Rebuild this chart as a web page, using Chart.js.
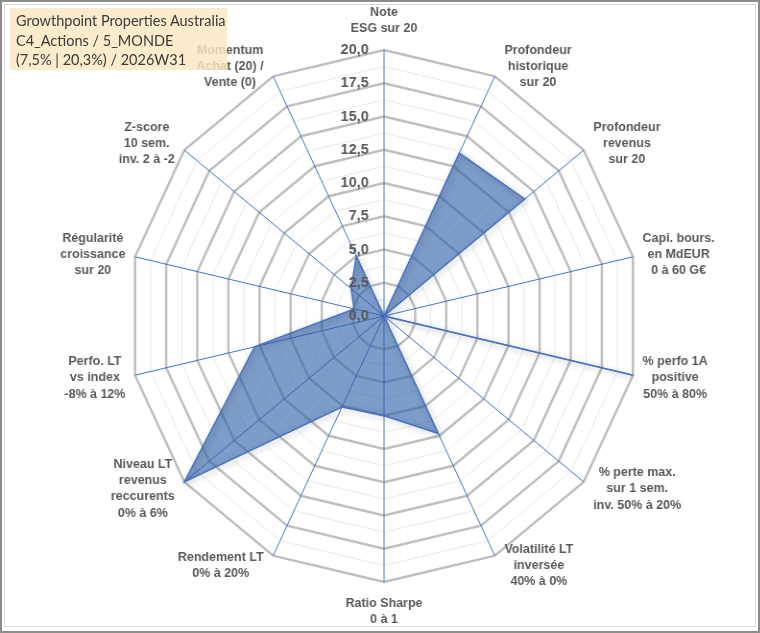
<!DOCTYPE html>
<html>
<head>
<meta charset="utf-8">
<script src="https://cdn.jsdelivr.net/npm/chart.js@4.4.1/dist/chart.umd.min.js"></script>
<style>
  body { margin: 0; background: #fff; }
  #wrap { position: relative; width: 760px; height: 633px; overflow: hidden; }
  #radar { position: absolute; left: 0; top: 0; transform: scaleX(0.96); transform-origin: 0 0; }
  #frameOut { position: absolute; left: 0; top: 0; width: 756px; height: 629px; border: 2px solid #8c8c8c; pointer-events: none; }
  #frameIn { position: absolute; left: 4px; top: 4px; width: 750px; height: 621px; border: 1px solid #dadada; pointer-events: none; }
  #title {
    position: absolute; left: 10px; top: 8px; width: 217px; height: 62px;
    background: rgba(253, 232, 193, 0.82);
    font-family: Lato, sans-serif; font-size: 14.5px; line-height: 19.5px;
    color: #3a3a3a; padding: 3px 0 0 6px; box-sizing: border-box;
  }
</style>
</head>
<body>
<div id="wrap">
  <canvas id="radar" width="792" height="633"></canvas>
  <div id="frameOut"></div>
  <div id="frameIn"></div>
  <div id="title">Growthpoint Properties Australia<br>C4_Actions / 5_MONDE<br>(7,5% | 20,3%) / 2026W31</div>
</div>
<script>
const axisLabels = [
    ['Note', 'ESG sur 20'],
    ['Profondeur', 'historique', 'sur 20'],
    ['Profondeur', 'revenus', 'sur 20'],
    ['Capi. bours.', 'en MdEUR', '0 à 60 G€'],
    ['% perfo 1A', 'positive', '50% à 80%'],
    ['% perte max.', 'sur 1 sem.', 'inv. 50% à 20%'],
    ['Volatilité LT', 'inversée', '40% à 0%'],
    ['Ratio Sharpe', '0 à 1'],
    ['Rendement LT', '0% à 20%'],
    ['Niveau LT', 'revenus', 'reccurents', '0% à 6%'],
    ['Perfo. LT', 'vs index', '-8% à 12%'],
    ['Régularité', 'croissance', 'sur 20'],
    ['Z-score', '10 sem.', 'inv. 2 à -2'],
    ['Momentum', 'Achat (20) /', 'Vente (0)']
];
const scores = [0, 13.6, 14.1, 0, 20, 0, 9.8, 7.5, 7.6, 20, 10.4, 2.4, 3.3, 5.0];
const tickValues = [0, 2.5, 5, 7.5, 10, 12.5, 15, 17.5, 20];

const labelFont = 'bold 13px "Liberation Sans", Arial, sans-serif';
const lineStep = 16.3;

// shadow under the filled area, like the spreadsheet chart
const shadowPlugin = {
    id: 'shadow',
    beforeDatasetDraw(chart) {
        const ctx = chart.ctx;
        ctx.save();
        ctx.shadowColor = 'rgba(0,0,0,0.35)';
        ctx.shadowBlur = 6;
        ctx.shadowOffsetX = 2;
        ctx.shadowOffsetY = 2;
    },
    afterDatasetDraw(chart) {
        chart.ctx.restore();
    }
};

// tick labels left of the vertical axis + axis labels set beside each outer vertex
const textPlugin = {
    id: 'texts',
    afterDraw(chart) {
        const ctx = chart.ctx;
        const scale = chart.scales.r;
        ctx.save();
        ctx.font = 'bold 15px "Liberation Sans", Arial, sans-serif';
        ctx.fillStyle = '#595959';
        ctx.textAlign = 'right';
        ctx.textBaseline = 'middle';
        tickValues.forEach(v => {
            const y = scale.yCenter - scale.getDistanceFromCenterForValue(v);
            ctx.fillText(v.toFixed(1).replace('.', ','), scale.xCenter - 16, y);
        });

        ctx.font = labelFont;
        ctx.textAlign = 'center';
        ctx.textBaseline = 'middle';
        axisLabels.forEach((lines, i) => {
            const a = scale.getIndexAngle(i);
            const s = Math.sin(a), c = Math.cos(a);
            const p = scale.getPointPosition(i, scale.drawingArea);
            const w = Math.max(...lines.map(t => ctx.measureText(t).width));
            const h = lines.length * lineStep;
            let cx, cy;
            if (Math.abs(s) < 0.01) {
                cx = p.x;
                cy = p.y - Math.sign(c) * (h / 2 + 13);
            } else {
                cx = p.x + Math.sign(s) * (w / 2 + 10);
                cy = p.y - 11 * c;
            }
            lines.forEach((t, k) => {
                ctx.fillText(t, cx, cy - h / 2 + lineStep * (k + 0.5));
            });
        });
        ctx.restore();
    }
};

new Chart(document.getElementById('radar'), {
    type: 'radar',
    data: {
        labels: axisLabels,
        datasets: [{
            data: scores,
            backgroundColor: 'rgba(50, 100, 170, 0.64)',
            borderColor: '#4472c4',
            borderWidth: 1.5,
            pointRadius: 0,
            fill: true
        }]
    },
    options: {
        responsive: false,
        animation: false,
        devicePixelRatio: 1,
        layout: { padding: { top: 12, bottom: 12, left: 18, right: 10 } },
        plugins: { legend: { display: false }, tooltip: { enabled: false } },
        scales: {
            r: {
                min: 0,
                max: 20,
                ticks: { stepSize: 1.25, display: false },
                grid: {
                    circular: false,
                    color: c => (c.tick.value % 2.5 === 0 ? '#bfbfbf' : '#e8e8e8'),
                    lineWidth: c => (c.tick.value % 2.5 === 0 ? 2.5 : 1)
                },
                angleLines: { color: '#4472c4', lineWidth: 1 },
                pointLabels: {
                    color: 'rgba(0,0,0,0)',
                    padding: 6,
                    font: { family: '"Liberation Sans", Arial, sans-serif', size: 12, weight: 'bold', lineHeight: 1.333 }
                }
            }
        }
    },
    plugins: [shadowPlugin, textPlugin]
});
</script>
</body>
</html>
